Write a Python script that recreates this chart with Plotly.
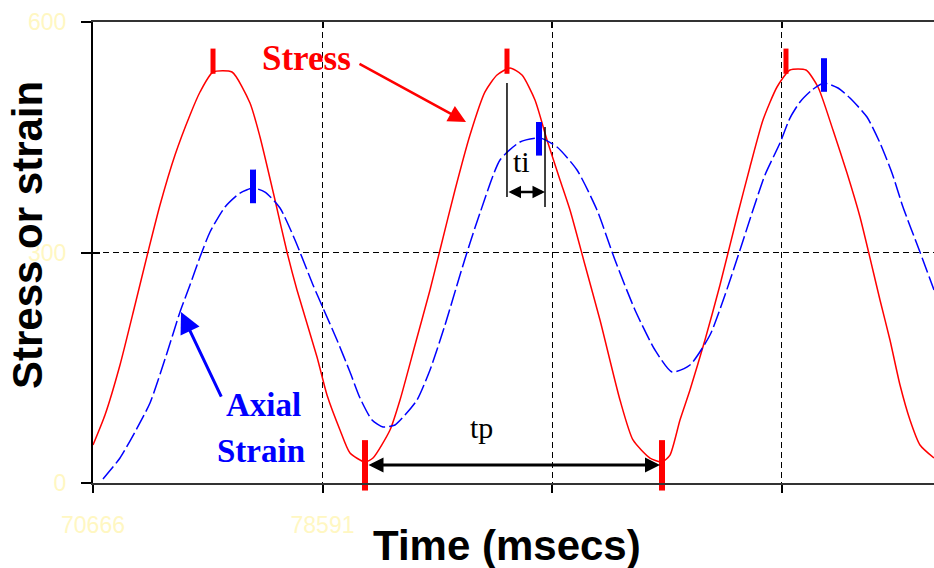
import plotly.graph_objects as go

# ---------------- data ----------------
stress_time = [70666, 71080, 71598, 72116, 72565, 72980, 73498, 74016, 74361, 74810,
               75466, 76087, 76433, 76951, 77365, 77710, 78401, 78746, 79195, 79540,
               80058, 80334, 80922, 81267, 81785, 82303, 82648, 83166, 83684, 84202,
               84616, 85065, 85479, 85928, 86343, 86792, 87137, 87655, 88173, 88863,
               89312, 89899, 90314, 90590, 90935, 91280, 91798, 92316, 92903, 93352,
               93801, 94285, 94733, 95286, 95700, 96218, 96702, 97151, 97841, 98186,
               98532, 98877, 99222, 99706]
stress_value = [49.5, 88.5, 153.6, 231.7, 300.6, 361.8, 426.9, 479.0, 508.9, 534.9,
                534.9, 494.6, 450.3, 368.3, 300.6, 251.2, 164.0, 114.5, 69.0, 39.0,
                27.3, 32.5, 69.0, 108.0, 179.6, 251.2, 303.3, 381.3, 452.9, 509.0,
                531.0, 540.0, 531.0, 498.5, 446.4, 394.4, 355.3, 283.7, 212.1, 108.0,
                56.0, 32.5, 27.3, 36.4, 82.0, 121.0, 186.1, 257.7, 346.2, 411.3,
                472.4, 515.4, 537.5, 537.5, 515.4, 459.4, 403.5, 346.2, 238.2, 186.1,
                127.5, 82.0, 49.5, 32.5]

strain_time = [71011, 71598, 72116, 72634, 73221, 73670, 74015, 74361, 74706, 75224,
               75742, 76191, 76605, 77123, 77641, 78263, 78608, 79091, 79540, 79886,
               80300, 80680, 81094, 81439, 81854, 82303, 82821, 83339, 83684, 84029,
               84720, 85410, 86101, 86688, 87379, 88069, 88691, 89381, 90072, 90659,
               91280, 91971, 92489, 93007, 93421, 93870, 94388, 94733, 95079, 95493,
               95907, 96391, 96805, 97392, 97841, 98255, 98635, 99222, 99706]
strain_value = [5.2, 32.5, 66.4, 104.1, 169.2, 222.6, 257.7, 294.1, 326.7, 359.2,
                377.4, 383.9, 378.7, 357.9, 316.3, 257.7, 227.8, 186.1, 144.5, 110.6,
                82.0, 72.9, 75.5, 88.5, 108.0, 147.1, 205.6, 270.7, 312.4, 351.4,
                420.4, 443.8, 449.0, 437.3, 407.4, 355.3, 290.2, 225.2, 173.1, 144.5,
                153.6, 192.6, 244.7, 303.3, 351.4, 400.9, 442.5, 475.0, 495.9, 511.5,
                520.6, 514.1, 501.1, 476.3, 442.5, 403.5, 359.2, 300.6, 251.2]

# peak / trough marks
stress_peak_time = [74810, 84961, 94595]
stress_peak_value = [549, 549, 549]
stress_trough_time = [80058, 90314]
stress_trough_value = [23, 23]
strain_peak_time = [76191, 86066, 95907]
strain_peak_value = [386, 448, 531]

x_tick_values = [70666, 78591, 86516, 94441]
x_tick_labels = ["70666", "78591", "", ""]
y_tick_values = [0, 300, 600]
y_tick_labels = ["0", "300", "600"]
x_range = [70666, 99706]
y_range = [0, 600]

# annotation anchors (data units)
ti_left, ti_right = 84961, 86274
tp_left, tp_right = 80127, 90245

RED = "#FF0000"
BLUE = "#0000FF"
FAINT = "#FFF7C2"
SERIF = "Liberation Serif, Times New Roman, serif"
SANS = "Liberation Sans, Arial, sans-serif"

fig = go.Figure()

fig.add_trace(go.Scatter(x=stress_time, y=stress_value, mode="lines",
                         line=dict(color=RED, width=1.5, shape="spline", smoothing=0.6),
                         showlegend=False, hoverinfo="skip"))
fig.add_trace(go.Scatter(x=strain_time, y=strain_value, mode="lines",
                         line=dict(color=BLUE, width=1.5, dash="16px,4px",
                                   shape="spline", smoothing=0.6),
                         showlegend=False, hoverinfo="skip"))

fig.add_trace(go.Scatter(x=stress_peak_time, y=stress_peak_value, mode="markers",
                         marker=dict(symbol="line-ns", size=18, color=RED,
                                     line=dict(color=RED, width=5)),
                         showlegend=False, hoverinfo="skip", cliponaxis=False))
fig.add_trace(go.Scatter(x=stress_trough_time, y=stress_trough_value, mode="markers",
                         marker=dict(symbol="line-ns", size=36, color=RED,
                                     line=dict(color=RED, width=6)),
                         showlegend=False, hoverinfo="skip", cliponaxis=False))
fig.add_trace(go.Scatter(x=strain_peak_time, y=strain_peak_value, mode="markers",
                         marker=dict(symbol="line-ns", size=24, color=BLUE,
                                     line=dict(color=BLUE, width=6)),
                         showlegend=False, hoverinfo="skip", cliponaxis=False))

# helper axes for the inward ticks on top and left
fig.add_trace(go.Scatter(x=[], y=[], xaxis="x2", yaxis="y2", showlegend=False))

annotations = [
    # axis titles
    dict(text="Time (msecs)", xref="paper", yref="paper", x=0.4923, y=-0.1345,
         xanchor="center", yanchor="middle", showarrow=False,
         font=dict(family=SANS, size=42, color="black", weight="bold")),
    dict(text="Stress or strain", xref="paper", yref="paper", x=-0.0773, y=0.538,
         xanchor="center", yanchor="middle", textangle=-90, showarrow=False,
         borderpad=0,
         font=dict(family=SANS, size=42, color="black", weight="bold")),
    # faint stray tick label
    dict(text="94443", xref="x", yref="y", x=84478, y=-50.8, showarrow=False,
         font=dict(family=SANS, size=23, color=FAINT)),
    # Stress label and arrow
    dict(text="Stress", xref="x", yref="y", x=78055, y=553, showarrow=False,
         font=dict(family=SERIF, size=35, color=RED, weight="bold")),
    dict(text="", xref="x", yref="y", axref="x", ayref="y",
         x=83546, y=469.8, ax=79816, ay=546.6, showarrow=True,
         arrowhead=2, arrowsize=1.4, arrowwidth=2.5, arrowcolor=RED),
    # Axial strain label and arrow
    dict(text="Axial", xref="x", yref="y", x=76536, y=101.5, showarrow=False,
         font=dict(family=SERIF, size=33, color=BLUE, weight="bold")),
    dict(text="Strain", xref="x", yref="y", x=76467, y=41.6, showarrow=False,
         font=dict(family=SERIF, size=33, color=BLUE, weight="bold")),
    dict(text="", xref="x", yref="y", axref="x", ayref="y",
         x=73705, y=222.6, ax=75120, ay=110.6, showarrow=True,
         arrowhead=2, arrowsize=1.4, arrowwidth=3, arrowcolor=BLUE),
    # ti
    dict(text="ti", xref="x", yref="y", x=85479, y=419, showarrow=False,
         font=dict(family=SERIF, size=30, color="black")),
    dict(text="", xref="x", yref="y", axref="x", ayref="y",
         x=ti_right, y=378.7, ax=ti_left, ay=378.7, showarrow=True,
         arrowhead=2, startarrowhead=2, arrowside="end+start",
         arrowsize=1, startarrowsize=1, arrowwidth=2.5, arrowcolor="black",
         standoff=0, startstandoff=0),
    # tp
    dict(text="tp", xref="x", yref="y", x=84098, y=71.6, showarrow=False,
         font=dict(family=SERIF, size=30, color="black")),
    dict(text="", xref="x", yref="y", axref="x", ayref="y",
         x=tp_right, y=23.4, ax=tp_left, ay=23.4, showarrow=True,
         arrowhead=2, startarrowhead=2, arrowside="end+start",
         arrowsize=1, startarrowsize=1, arrowwidth=3, arrowcolor="black",
         standoff=0, startstandoff=0),
]

shapes = [
    dict(type="line", xref="x", yref="y", x0=ti_left, x1=ti_left, y0=372.2, y1=520.6,
         line=dict(color="black", width=1.5)),
    dict(type="line", xref="x", yref="y", x0=ti_right, x1=ti_right, y0=359.2, y1=463.3,
         line=dict(color="black", width=1.5)),
]

fig.update_layout(
    width=934, height=568,
    margin=dict(l=93, r=0, t=22, b=85, pad=0),
    paper_bgcolor="white", plot_bgcolor="white",
    showlegend=False,
    annotations=annotations,
    shapes=shapes,
    xaxis=dict(range=x_range, tickvals=x_tick_values, ticktext=x_tick_labels,
               ticks="outside", ticklen=8, tickwidth=1.5, tickcolor="black",
               showline=True, linecolor="#333333", linewidth=2, mirror=True,
               showgrid=True, gridcolor="black", gridwidth=1, griddash="6px,4px",
               zeroline=False, ticklabelstandoff=12,
               tickfont=dict(family=SANS, size=23, color=FAINT)),
    yaxis=dict(range=y_range, tickvals=y_tick_values, ticktext=y_tick_labels,
               ticks="outside", ticklen=10, tickwidth=1.5, tickcolor="black",
               showline=True, linecolor="black", linewidth=2, mirror=False,
               showgrid=True, gridcolor="black", gridwidth=1, griddash="6px,4px",
               zeroline=False, ticklabelstandoff=10,
               tickfont=dict(family=SANS, size=23, color=FAINT)),
    xaxis2=dict(overlaying="x", matches="x", side="top", anchor="y",
                tickvals=x_tick_values, ticks="inside", ticklen=6, tickwidth=1.5,
                tickcolor="black", showticklabels=False, showgrid=False,
                showline=False, zeroline=False),
    yaxis2=dict(overlaying="y", matches="y", side="left", anchor="x",
                tickvals=y_tick_values, ticks="inside", ticklen=7, tickwidth=1.5,
                tickcolor="black", showticklabels=False, showgrid=False,
                showline=False, zeroline=False),
)

# remove the default 8px page margin so the 934x568 figure fills the window
fig.write_html("out.html",
               config={"displayModeBar": False},
               post_script="document.body.style.margin='0px';")
